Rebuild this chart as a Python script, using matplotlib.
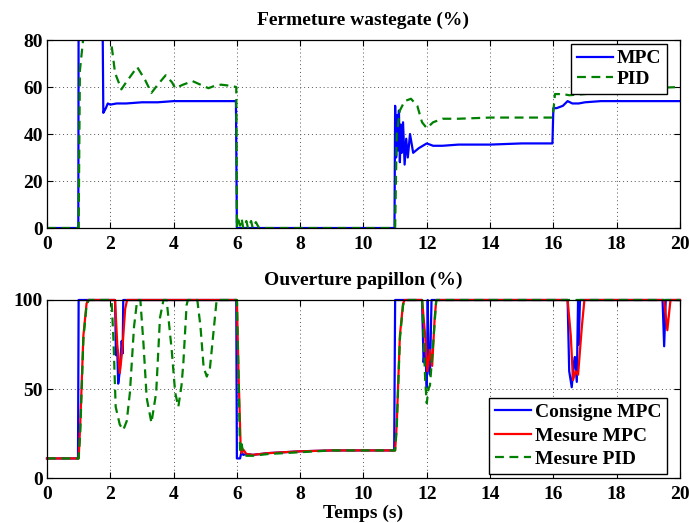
import matplotlib
matplotlib.use("Agg")
import matplotlib.pyplot as plt

plt.rcParams['font.family'] = ['Liberation Serif', 'DejaVu Serif']
plt.rcParams['font.weight'] = 'bold'

# ---------------- Top panel: Fermeture wastegate (%) ----------------
t_wg_mpc = [0, 0.99, 1.0, 1.75, 1.78, 1.82, 1.86, 1.92, 2.0, 2.2, 2.5, 3.0, 3.5, 4.0, 4.5, 5.0, 5.5,
            5.97, 6.0, 10.98, 11.0, 11.03, 11.06, 11.09, 11.12, 11.15, 11.18, 11.21, 11.25, 11.3,
            11.35, 11.4, 11.47, 11.52, 11.57, 11.75, 12.0, 12.2, 12.5, 13, 14, 15, 15.97, 16.0,
            16.1, 16.3, 16.45, 16.6, 16.8, 17, 17.5, 18, 19, 20]
v_wg_mpc = [0, 0, 100, 100, 49, 50, 51, 53, 52.5, 53, 53, 53.5, 53.5, 54, 54, 54, 54,
            54, 0, 0, 52, 30, 48, 33, 50, 28, 44, 32, 45, 27,
            38, 30, 40, 36, 32, 34, 36, 35, 35, 35.5, 35.5, 36, 36, 51,
            51, 52, 54, 53, 53, 53.5, 54, 54, 54, 54]

t_wg_pid = [0, 1.0, 1.04, 1.14, 1.3, 1.5, 1.7, 1.9, 2.02, 2.15, 2.35, 2.5, 2.85, 3.1, 3.3, 3.5,
            3.75, 3.95, 4.05, 4.3, 4.6, 4.85, 5.1, 5.3, 5.5, 5.8, 5.98, 6.0, 6.02, 6.1, 6.15,
            6.2, 6.3, 6.35, 6.45, 6.5, 6.6, 6.7, 11.0, 11.05, 11.15, 11.3, 11.5, 11.7, 11.85,
            12.0, 12.2, 12.5, 13, 14, 15, 15.98, 16.05, 16.3, 16.5, 17, 18, 19, 20]
v_wg_pid = [0, 0, 67, 80, 86, 88, 86, 82, 80, 66, 59, 62, 68.5, 63, 57.5, 61,
            65, 62, 59.5, 61, 62.5, 61, 59.5, 60.5, 61, 60.5, 60, 0, 5, 1, 4,
            0, 3, 0, 3, 0, 2.5, 0, 0, 40, 50, 54, 55, 52, 45,
            42.5, 45, 46.5, 46.5, 47, 47, 47, 57, 57, 56.5, 57, 58.5, 59.5, 60]

# ---------------- Bottom panel: Ouverture papillon (%) ----------------
t_pap_cons = [0, 0.98, 1.0, 2.15, 2.18, 2.22, 2.25, 2.3, 2.36, 2.39, 2.41, 5.98, 6.0, 6.1, 6.15,
              6.2, 6.3, 6.5, 7, 8, 9, 10.97, 11.0, 11.85, 11.9, 11.95, 12.0, 12.03, 12.06,
              12.1, 12.15, 12.2, 16.45, 16.5, 16.58, 16.65, 16.68, 16.74, 16.78, 16.8, 16.84,
              19.45, 19.5, 19.55, 19.6, 20]
v_pap_cons = [11, 11, 100, 100, 69, 72, 53, 60, 77, 70, 100, 100, 11, 11, 15,
              13, 13.5, 13, 14, 15, 15.5, 15.5, 100, 100, 65, 75, 51, 100, 62,
              58, 100, 100, 100, 60, 51, 65, 68, 54, 100, 75, 100,
              100, 74, 100, 100, 100]

t_pap_mpc = [0, 1.0, 1.05, 1.15, 1.25, 1.3, 2.15, 2.22, 2.3, 2.38, 2.47, 2.53, 6.0, 6.05, 6.12,
             6.15, 6.2, 6.3, 6.5, 7, 8, 9, 11.0, 11.05, 11.15, 11.25, 11.3, 11.85, 11.95, 12.02,
             12.1, 12.17, 12.25, 12.3, 16.45, 16.55, 16.62, 16.7, 16.78, 16.9, 16.98, 19.5,
             19.6, 19.7, 20]
v_pap_mpc = [11, 11, 30, 80, 98, 100, 100, 75, 59, 72, 95, 100, 100, 60, 17,
             14, 16, 13.5, 13, 14, 15, 15.5, 15.5, 30, 80, 98, 100, 100, 80, 60,
             72, 63, 90, 100, 100, 80, 55, 60, 58, 85, 100, 100,
             83, 100, 100]

t_pap_pid = [0, 1.0, 1.05, 1.15, 1.25, 1.32, 2.04, 2.1, 2.17, 2.3, 2.41, 2.52, 2.62, 2.75, 2.85,
             2.95, 3.05, 3.15, 3.3, 3.45, 3.57, 3.68, 3.78, 3.94, 4.05, 4.15, 4.25, 4.31, 4.41,
             4.45, 4.75, 4.85, 4.95, 5.05, 5.15, 5.25, 5.36, 6.0, 6.05, 6.1, 6.15, 6.2, 6.3,
             6.5, 7, 8, 9, 11.0, 11.05, 11.15, 11.25, 11.32, 11.85, 11.9, 11.95, 12.0, 12.05,
             12.1, 12.2, 12.3, 20]
v_pap_pid = [11, 11, 25, 78, 97, 100, 100, 78, 40, 30, 27, 32, 48, 85, 100,
             100, 75, 45, 31, 48, 90, 100, 100, 72, 48, 40, 52, 65, 97,
             100, 100, 85, 62, 57, 62, 80, 100, 100, 60, 15, 19, 14, 12.5,
             12.5, 13.5, 14.5, 15.5, 15.5, 28, 78, 97, 100, 100, 80, 55, 42, 50,
             52, 75, 100, 100]

xticks = [0, 2, 4, 6, 8, 10, 12, 14, 16, 18, 20]
yticks_top = [0, 20, 40, 60, 80]
yticks_bot = [0, 50, 100]

blue = (0, 0, 1)
red = (1, 0, 0)
green = (0, 0.5, 0)
fs = 14
dash = (0, (4, 2.5))

fig = plt.figure(figsize=(6.89, 5.23), dpi=100)
ax1 = fig.add_axes([0.0682, 0.564, 0.9187, 0.3595])
ax2 = fig.add_axes([0.0682, 0.086, 0.9187, 0.3404])

ax1.plot(t_wg_mpc, v_wg_mpc, color=blue, lw=1.6, label='MPC')
ax1.plot(t_wg_pid, v_wg_pid, color=green, lw=1.6, ls=dash, label='PID')
ax1.set_xlim(0, 20)
ax1.set_ylim(0, 80)
ax1.set_yticks(yticks_top)
ax1.set_title('Fermeture wastegate (%)', fontsize=fs, fontweight='bold', pad=11)

ax2.plot(t_pap_cons, v_pap_cons, color=blue, lw=1.6, label='Consigne MPC', clip_on=False)
ax2.plot(t_pap_mpc, v_pap_mpc, color=red, lw=1.6, label='Mesure MPC', clip_on=False)
ax2.plot(t_pap_pid, v_pap_pid, color=green, lw=1.6, ls=dash, label='Mesure PID', clip_on=False)
ax2.set_xlim(0, 20)
ax2.set_ylim(0, 100)
ax2.set_yticks(yticks_bot)
ax2.set_title('Ouverture papillon (%)', fontsize=fs, fontweight='bold', pad=11)
ax2.set_xlabel('Temps (s)', fontsize=fs, fontweight='bold', labelpad=1)

for ax in (ax1, ax2):
    ax.set_xticks(xticks)
    ax.grid(True, color='#555555', ls=(0, (1, 3)), lw=0.7)
    ax.tick_params(direction='in', top=True, right=True, labelsize=fs, length=4)
    ax.tick_params(axis='x', pad=6)
    ax.tick_params(axis='y', pad=3)
    for lab in ax.get_xticklabels() + ax.get_yticklabels():
        lab.set_fontweight('bold')
    for sp in ax.spines.values():
        sp.set_linewidth(0.9)

leg_kw = dict(prop={'weight': 'bold', 'size': fs}, fancybox=False, edgecolor='black',
              framealpha=1, handlelength=1.85, borderpad=0.3,
              handletextpad=0.2, borderaxespad=0)
leg1 = ax1.legend(loc='upper right', bbox_to_anchor=(0.9795, 0.9787), labelspacing=0.15, **leg_kw)
leg1.get_frame().set_linewidth(1.0)
leg2 = ax2.legend(loc='lower right', bbox_to_anchor=(0.9795, 0.0225), labelspacing=0.3, **leg_kw)
leg2.get_frame().set_linewidth(1.0)

fig.savefig('out.png', dpi=100)
